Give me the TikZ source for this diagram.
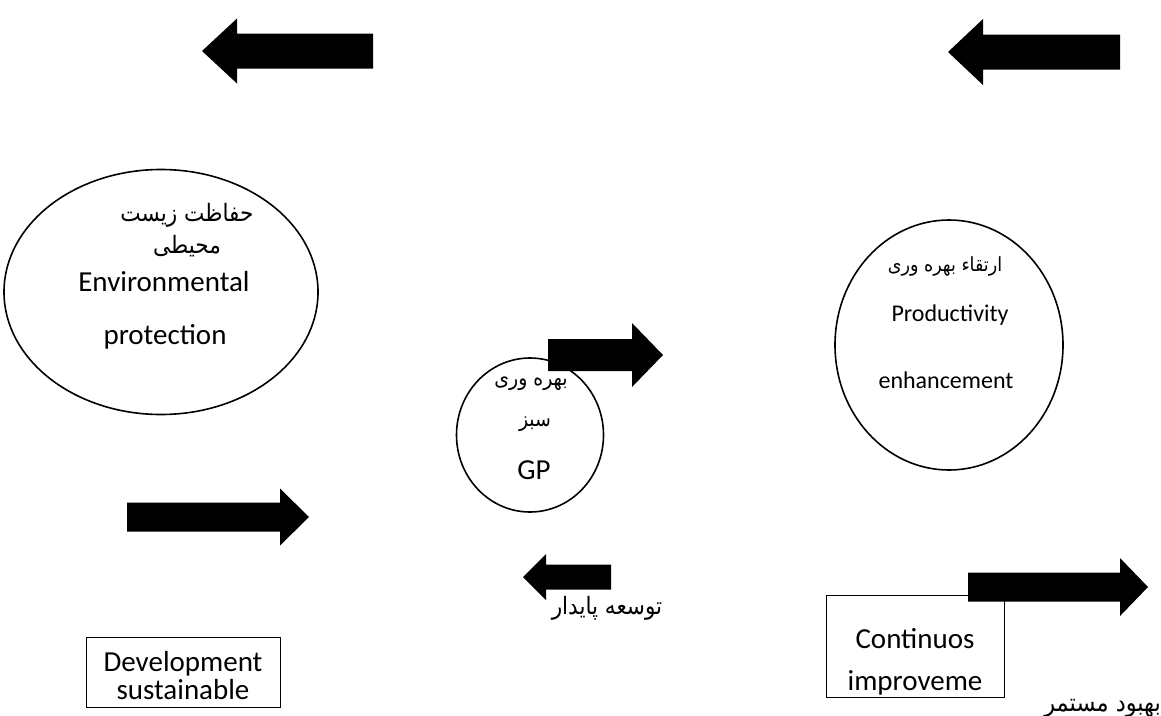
\documentclass[tikz,border=0pt]{standalone}
\usepackage{fontspec}
\setmainfont{Carlito}
\newfontfamily\fa[Script=Arabic]{DejaVu Sans}
\TeXXeTstate=1
\usetikzlibrary{shapes.geometric}

% block arrow: tail x, tip x, centre y, shaft half height, head base x, head half height
\newcommand\BlockArrow[6]{%
  \fill[black] (#1,#3-#4) -- (#5,#3-#4) -- (#5,#3-#6) -- (#2,#3)
    -- (#5,#3+#6) -- (#5,#3+#4) -- (#1,#3+#4) -- cycle;}

\tikzset{
  oval/.style={draw=black, line width=1.6pt, ellipse, inner sep=0pt},
  lat/.style={font=\fontsize{29}{34}\selectfont, inner sep=0pt, anchor=base},
  latsm/.style={font=\fontsize{24}{28}\selectfont, inner sep=0pt, anchor=base},
  per/.style={font=\fa\fontsize{#1}{#1}\selectfont, inner sep=0pt, anchor=base,
    xscale=0.9, transform shape},
  per/.default=24,
  frame/.style={draw=black, line width=0.9pt},
}

\begin{document}
\begin{tikzpicture}[x=1pt, y=-1pt]
  \useasboundingbox[fill=white] (0,0) rectangle (1161,715);

  % top arrows
  \BlockArrow{373}{202}{51}{17.5}{237}{32.5}
  \BlockArrow{1120}{948}{52}{17.5}{983}{33}

  % environmental protection
  \node[oval, minimum width=314pt, minimum height=245pt] (env) at (161,292) {};
  \node[per] (envfa1) at (187,221) {\beginR حفاظت زیست\endR};
  \node[per] (envfa2) at (187,253) {\beginR محیطی\endR};
  \node[lat] (enven1) at (164,291) {Environmental};
  \node[lat] (enven2) at (165,344) {protection};

  % green productivity
  \node[oval, minimum width=147pt, minimum height=154pt] (gp) at (530,435) {};
  \node[per=21] (gpfa1) at (531,385) {\beginR بهره وری\endR};
  \node[per=21] (gpfa2) at (535,426) {\beginR سبز\endR};
  \node[lat] (gpen) at (534,479) {GP};
  \BlockArrow{548}{663}{355}{16}{632}{32}

  % productivity enhancement
  \node[oval, minimum width=228pt, minimum height=250pt] (pe) at (949,345) {};
  \node[per=19.5] (pefa) at (945,271) {\beginR ارتقاء بهره وری\endR};
  \node[latsm] (peen1) at (950,321) {Productivity};
  \node[latsm] (peen2) at (946,388) {enhancement};

  % lower arrows
  \BlockArrow{127}{309}{517}{14.5}{280}{28.5}
  \BlockArrow{611}{523}{577}{12.5}{546}{23}
  \BlockArrow{968}{1148}{587}{14.5}{1120}{29}

  % sustainable development
  \node[per] (sdfa) at (607,614) {\beginR توسعه پایدار\endR};
  \node[frame, minimum width=194pt, minimum height=70pt] (sd) at (183,672) {};
  \node[lat] (sd1) at (sd.center |- 0,671) {Development};
  \node[lat] (sd2) at (sd.center |- 0,699) {sustainable};

  % continuous improvement
  \node[frame, minimum width=178pt, minimum height=102pt] (ci) at (915,646) {};
  \node[lat] (ci1) at (ci.center |- 0,648) {Continuos};
  \node[lat] (ci2) at (ci.center |- 0,690) {improveme};
  \node[per=25, anchor=base east] (cifa) at (1161,711) {\beginR بهبود مستمر\endR};
\end{tikzpicture}
\end{document}
